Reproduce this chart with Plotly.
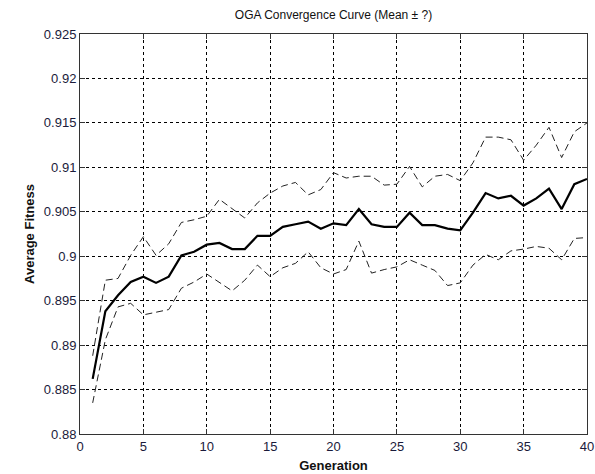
import plotly.graph_objects as go

generations = list(range(1, 41))
mean_fitness = [0.8862, 0.8938, 0.8956, 0.8971, 0.8977, 0.8970, 0.8977, 0.9001, 0.9005, 0.9013,
                0.9015, 0.9008, 0.9008, 0.9023, 0.9023, 0.9033, 0.9036, 0.9039, 0.9031, 0.9037,
                0.9035, 0.9053, 0.9036, 0.9033, 0.9033, 0.9049, 0.9035, 0.9035, 0.9031, 0.9029,
                0.9049, 0.9071, 0.9065, 0.9068, 0.9057, 0.9065, 0.9076, 0.9053, 0.9081, 0.9087]
upper_fitness = [0.8888, 0.8973, 0.8975, 0.9001, 0.9022, 0.9001, 0.9014, 0.9038, 0.9041, 0.9045,
                 0.9064, 0.9053, 0.9043, 0.9060, 0.9071, 0.9079, 0.9083, 0.9069, 0.9075, 0.9094,
                 0.9088, 0.9090, 0.9090, 0.9080, 0.9081, 0.9101, 0.9078, 0.9090, 0.9092, 0.9085,
                 0.9105, 0.9134, 0.9134, 0.9131, 0.9108, 0.9125, 0.9145, 0.9111, 0.9140, 0.9150]
lower_fitness = [0.8835, 0.8906, 0.8943, 0.8947, 0.8934, 0.8937, 0.8940, 0.8964, 0.8971, 0.8980,
                 0.8970, 0.8961, 0.8973, 0.8990, 0.8977, 0.8987, 0.8992, 0.9005, 0.8987, 0.8980,
                 0.8985, 0.9017, 0.8981, 0.8985, 0.8988, 0.8996, 0.8990, 0.8984, 0.8967, 0.8970,
                 0.8990, 0.9002, 0.8996, 0.9006, 0.9008, 0.9011, 0.9009, 0.8996, 0.9020, 0.9021]

x_ticks = [0, 5, 10, 15, 20, 25, 30, 35, 40]
y_ticks = [0.88, 0.885, 0.89, 0.895, 0.9, 0.905, 0.91, 0.915, 0.92, 0.925]
y_tick_labels = ["0.88", "0.885", "0.89", "0.895", "0.9", "0.905", "0.91", "0.915", "0.92", "0.925"]

fig = go.Figure()
fig.add_trace(go.Scatter(x=generations, y=upper_fitness, mode="lines",
                         line=dict(color="#222", width=1, dash="7px,4px"), showlegend=False))
fig.add_trace(go.Scatter(x=generations, y=lower_fitness, mode="lines",
                         line=dict(color="#222", width=1, dash="7px,4px"), showlegend=False))
fig.add_trace(go.Scatter(x=generations, y=mean_fitness, mode="lines",
                         line=dict(color="black", width=2.2), showlegend=False))

axis_common = dict(showline=True, linecolor="#333", linewidth=1, mirror="ticks",
                   ticks="inside", ticklen=5, tickcolor="#333",
                   showgrid=True, gridcolor="black", gridwidth=1, griddash="3px,3px",
                   zeroline=False, automargin=False,
                   tickfont=dict(family="Liberation Sans, Arial", size=13, color="#1a1a3a"))

fig.update_layout(
    width=595, height=474,
    margin=dict(l=80, r=8, t=34, b=40, autoexpand=False),
    paper_bgcolor="white", plot_bgcolor="white",
    title=dict(text="OGA Convergence Curve (Mean ± ?)", x=0.5, xanchor="center",
               xref="paper", y=1 - 15 / 474, yanchor="middle", automargin=False,
               font=dict(family="Liberation Sans, Arial", size=12, color="#111")),
    xaxis=dict(range=[0, 40], tickvals=x_ticks,
               title=dict(text="<b>Generation</b>", standoff=8,
                          font=dict(family="Liberation Sans, Arial", size=13, color="#111")),
               **axis_common),
    yaxis=dict(range=[0.88, 0.925], tickvals=y_ticks, ticktext=y_tick_labels,
               title=dict(text="<b>Average Fitness</b>", standoff=6,
                          font=dict(family="Liberation Sans, Arial", size=13, color="#111")),
               **axis_common),
)

fig.write_html("out.html")
